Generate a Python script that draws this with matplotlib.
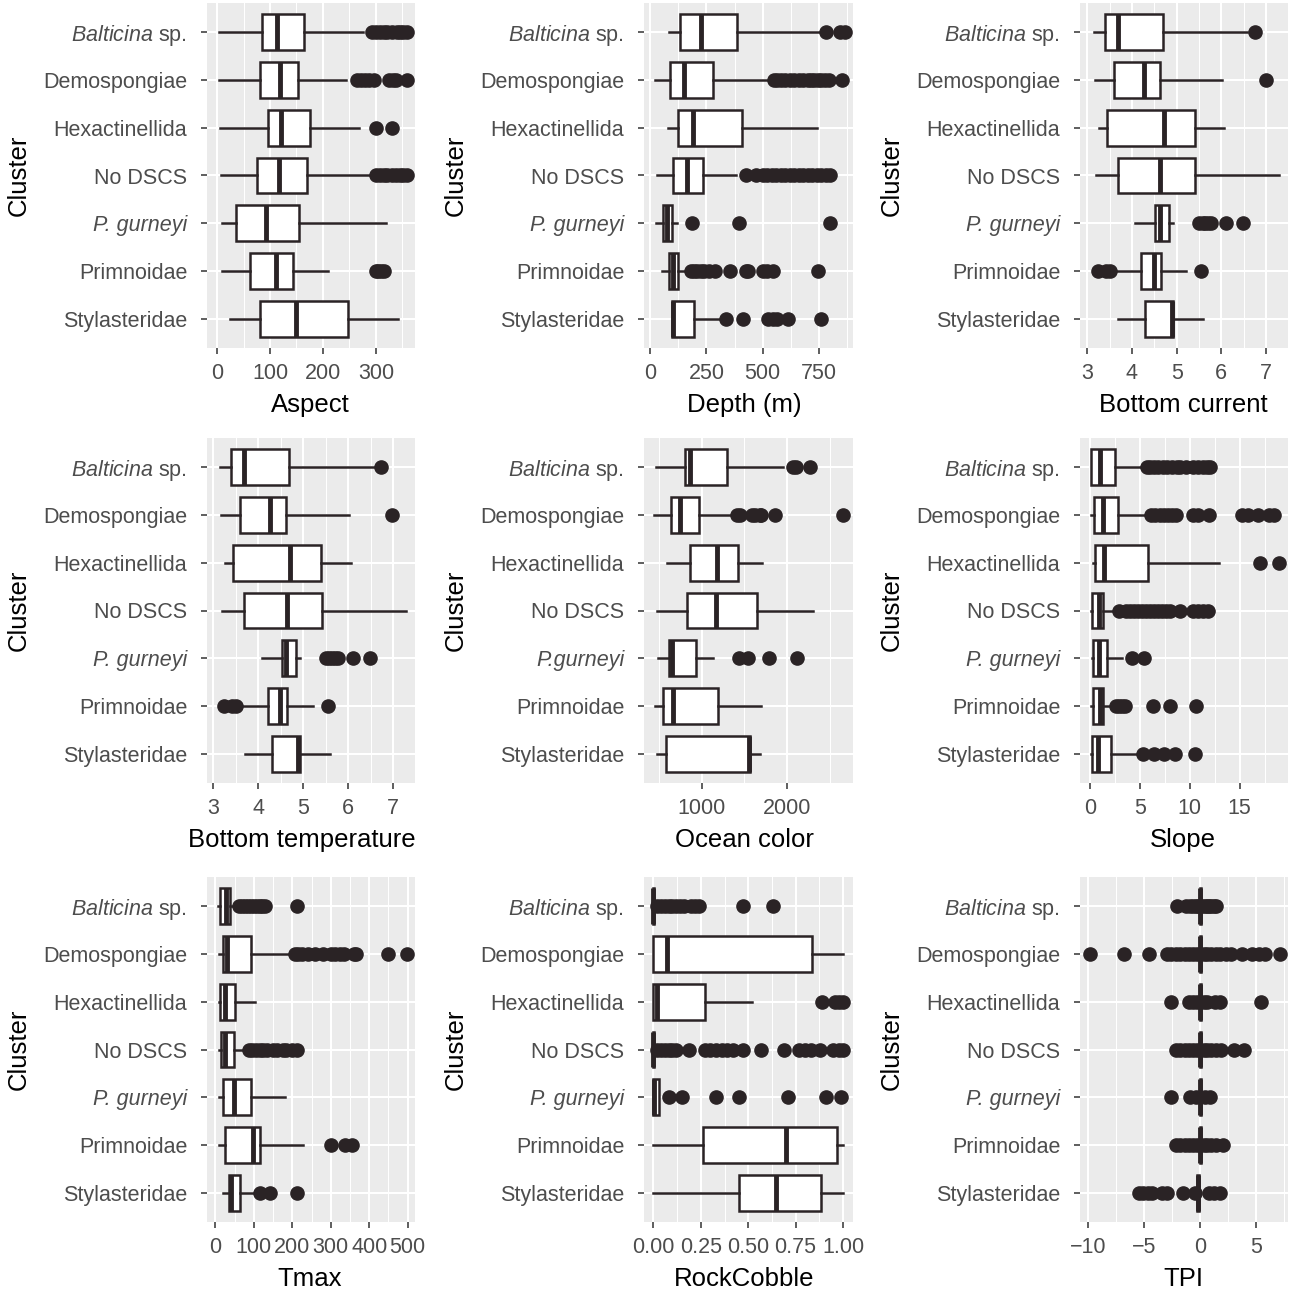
import matplotlib.pyplot as plt
from matplotlib.ticker import AutoMinorLocator
import numpy as np

plt.rcParams['font.family'] = ['Liberation Sans', 'DejaVu Sans']
plt.rcParams['mathtext.fontset'] = 'custom'
plt.rcParams['mathtext.rm'] = 'Liberation Sans'
plt.rcParams['mathtext.it'] = 'Liberation Sans:italic'

clusters = [r'$\mathit{Balticina}$ sp.', 'Demospongiae', 'Hexactinellida', 'No DSCS',
            'P. gurneyi', 'Primnoidae', 'Stylasteridae']

# box stats per cluster: [whisker low, q1, median, q3, whisker high]
aspect_box = [[3, 84, 113, 164, 275], [3, 81, 118, 152, 243], [6, 97, 120, 176, 268],
              [7, 75, 117, 169, 301], [10, 35, 93, 155, 319], [10, 63, 111, 144, 210],
              [25, 82, 149, 248, 341]]
aspect_out = [[293, 300, 308, 315, 322, 330, 340, 345, 352, 358],
              [265, 272, 280, 288, 296, 325, 332, 338, 358],
              [301, 331],
              [301, 308, 315, 322, 330, 338, 345, 352, 358],
              [],
              [300, 305, 310, 315],
              []]

depth_box = [[86, 133, 224, 387, 760], [22, 89, 151, 281, 546], [81, 126, 192, 410, 743],
             [30, 103, 162, 233, 380], [27, 56, 74, 96, 118], [52, 86, 103, 126, 160],
             [96, 98, 103, 195, 320]]
depth_out = [[780, 845, 865],
             [550, 565, 580, 600, 620, 640, 660, 680, 700, 715, 730, 745, 760, 775, 795, 850],
             [],
             [425, 470, 500, 520, 540, 560, 580, 600, 620, 640, 660, 680, 700, 720, 740, 760, 780, 800],
             [185, 394, 797],
             [180, 195, 210, 225, 240, 260, 290, 355, 425, 435, 500, 520, 545, 745],
             [337, 414, 525, 545, 565, 613, 760]]

current_box = [[3.15, 3.40, 3.69, 4.69, 6.58], [3.17, 3.59, 4.26, 4.62, 6.01],
               [3.26, 3.44, 4.71, 5.40, 6.06], [3.19, 3.68, 4.63, 5.42, 7.29],
               [4.08, 4.52, 4.62, 4.84, 4.93], [3.57, 4.21, 4.49, 4.65, 5.22],
               [3.70, 4.30, 4.89, 4.93, 5.59]]
current_out = [[6.76], [6.99], [], [],
               [5.51, 5.58, 5.64, 5.70, 5.77, 6.10, 6.49],
               [3.24, 3.42, 3.51, 5.55], []]

temp_box = [[3.15, 3.40, 3.69, 4.69, 6.58], [3.17, 3.59, 4.26, 4.62, 6.01],
            [3.26, 3.44, 4.71, 5.40, 6.06], [3.19, 3.68, 4.63, 5.42, 7.29],
            [4.08, 4.52, 4.62, 4.84, 4.93], [3.57, 4.21, 4.49, 4.65, 5.22],
            [3.70, 4.30, 4.89, 4.93, 5.59]]
temp_out = [[6.74], [6.97], [], [],
            [5.51, 5.58, 5.64, 5.70, 5.77, 6.10, 6.49],
            [3.24, 3.42, 3.51, 5.55], []]

ocean_box = [[473, 805, 860, 1293, 1949], [445, 641, 746, 973, 1383], [602, 867, 1176, 1430, 1707],
             [484, 836, 1168, 1645, 2301], [496, 621, 660, 941, 1129], [457, 555, 672, 1187, 1695],
             [484, 590, 1559, 1570, 1684]]
ocean_out = [[2066, 2100, 2262],
             [1420, 1450, 1590, 1620, 1680, 1700, 1860, 2650],
             [], [],
             [1441, 1539, 1793, 2117],
             [], []]

slope_box = [[0.1, 0.13, 1.0, 2.51, 5.6], [0.1, 0.37, 1.34, 2.85, 5.96], [0.27, 0.54, 1.44, 5.86, 12.9],
             [0.1, 0.17, 0.94, 1.34, 2.28], [0.2, 0.33, 0.94, 1.71, 3.21], [0.1, 0.27, 1.04, 1.27, 2.11],
             [0.1, 0.2, 0.77, 2.11, 4.95]]
slope_out = [[5.7, 6.0, 6.4, 6.8, 7.3, 7.7, 8.2, 8.7, 9.0, 9.6, 10.3, 10.8, 11.3, 11.7, 12.0],
             [6.1, 6.5, 7.0, 7.4, 7.8, 8.2, 8.6, 10.3, 10.8, 11.9, 15.2, 15.8, 16.8, 17.9, 18.4],
             [17.0, 18.9],
             [2.9, 3.6, 4.0, 4.4, 4.8, 5.2, 5.6, 6.0, 6.4, 6.8, 7.2, 7.6, 8.0, 9.0, 10.3, 10.8, 11.3, 11.8],
             [4.18, 5.46],
             [2.6, 2.9, 3.2, 3.5, 6.3, 8.0, 10.6],
             [5.3, 6.46, 7.47, 8.57, 10.5]]

tmax_box = [[7, 13, 29, 39, 56], [9, 19, 30, 93, 201], [10, 13, 24, 52, 104],
            [9, 16, 26, 49, 82], [9, 20, 48, 93, 180], [10, 24, 98, 115, 229],
            [19, 35, 42, 65, 104]]
tmax_out = [[62, 70, 78, 85, 92, 100, 108, 115, 122, 128, 212],
            [208, 215, 225, 240, 260, 280, 300, 312, 325, 335, 360, 365, 450, 497],
            [],
            [88, 95, 105, 115, 125, 135, 150, 160, 175, 185, 200, 213],
            [],
            [301, 337, 355],
            [115, 143, 212]]

rock_box = [[0, 0, 0, 0.004, 0.008], [0, 0, 0.074, 0.836, 1.0], [0, 0, 0.02, 0.27, 0.52],
            [0, 0, 0, 0.003, 0.006], [0, 0, 0.005, 0.03, 0.03], [0, 0.263, 0.70, 0.968, 1.0],
            [0, 0.453, 0.647, 0.885, 1.0]]
rock_out = [[0.02, 0.04, 0.06, 0.08, 0.10, 0.12, 0.14, 0.16, 0.20, 0.22, 0.24, 0.47, 0.63],
            [],
            [0.89, 0.96, 0.98, 1.0],
            [0.02, 0.04, 0.06, 0.08, 0.10, 0.12, 0.19, 0.27, 0.30, 0.33, 0.36, 0.39, 0.42, 0.47,
             0.57, 0.69, 0.77, 0.80, 0.83, 0.88, 0.95, 0.98, 1.0],
            [0.08, 0.15, 0.33, 0.45, 0.71, 0.91, 0.99],
            [], []]

tpi_box = [[-0.1, -0.06, 0, 0.06, 0.1], [-0.1, -0.06, 0, 0.06, 0.1], [-0.1, -0.06, 0, 0.06, 0.1],
           [-0.1, -0.06, 0, 0.06, 0.1], [-0.1, -0.06, 0, 0.06, 0.1], [-0.1, -0.06, 0, 0.06, 0.1],
           [-0.3, -0.26, -0.2, -0.14, -0.1]]
tpi_out = [[-2.1, -1.3, -0.9, -0.6, -0.4, -0.2, 0.2, 0.4, 0.6, 0.8, 1.0, 1.2, 1.4],
           [-9.9, -6.8, -4.6, -3.0, -2.6, -2.2, -1.8, -1.4, -1.0, -0.6, -0.3, 0.3, 0.6, 1.0,
            1.4, 1.8, 2.3, 2.8, 3.7, 4.6, 5.3, 5.8, 7.1],
           [-2.6, -1.0, -0.6, -0.3, 0.3, 0.6, 1.3, 1.8, 5.4],
           [-2.2, -1.8, -1.4, -1.0, -0.6, -0.3, 0.3, 0.6, 1.0, 1.4, 1.9, 3.0, 3.9],
           [-2.6, -0.9, -0.4, 0.4, 0.9],
           [-2.2, -1.8, -1.4, -1.0, -0.6, -0.3, 0.3, 0.6, 1.0, 1.4, 2.0],
           [-5.5, -5.1, -4.7, -4.3, -3.4, -3.0, -1.5, -0.5, 0.8, 1.2, 1.8]]

panels = [
    ('Aspect', aspect_box, aspect_out, [0, 100, 200, 300], None, (-19, 374)),
    ('Depth (m)', depth_box, depth_out, [0, 250, 500, 750], None, (-27, 901)),
    ('Bottom current', current_box, current_out, [3, 4, 5, 6, 7], None, (2.84, 7.49)),
    ('Bottom temperature', temp_box, temp_out, [3, 4, 5, 6, 7], None, (2.86, 7.49)),
    ('Ocean color', ocean_box, ocean_out, [1000, 2000], None, (328, 2769)),
    ('Slope', slope_box, slope_out, [0, 5, 10, 15], None, (-1.0, 19.85)),
    ('Tmax', tmax_box, tmax_out, [0, 100, 200, 300, 400, 500], None, (-21.6, 519)),
    ('RockCobble', rock_box, rock_out, [0, 0.25, 0.5, 0.75, 1.0],
     ['0.00', '0.25', '0.50', '0.75', '1.00'], (-0.05, 1.053)),
    ('TPI', tpi_box, tpi_out, [-10, -5, 0, 5], ['\u221210', '\u22125', '0', '5'], (-10.76, 7.86)),
]

W, H = 1290, 1292
col_left = [207, 644, 1080]
col_w = [208, 209, 208]
title_x = [310, 744, 1183]
row_top = [3, 438, 877]
row_h = 345
dark = '#2A2325'

fig = plt.figure(figsize=(W / 100, H / 100), dpi=100)

for i, (title, box, out, ticks, tlabels, xlim) in enumerate(panels):
    r, c = divmod(i, 3)
    ax = fig.add_axes([col_left[c] / W, 1 - (row_top[r] + row_h) / H, col_w[c] / W, row_h / H])
    ax.set_facecolor('#EBEBEB')
    stats = []
    for b, o in zip(box, out):
        stats.append(dict(whislo=b[0], q1=b[1], med=b[2], q3=b[3], whishi=b[4], fliers=o))
    pos = np.arange(1, len(clusters) + 1)
    ax.bxp(stats, positions=pos, widths=0.75, vert=False, patch_artist=True, showcaps=False,
           boxprops=dict(facecolor='white', edgecolor=dark, linewidth=1.8),
           whiskerprops=dict(color=dark, linewidth=1.8),
           medianprops=dict(color=dark, linewidth=3.5, solid_capstyle='butt'),
           flierprops=dict(marker='o', markerfacecolor=dark, markeredgecolor=dark, markersize=9.5))
    ax.set_xlim(*xlim)
    ax.set_ylim(7.6, 0.4)
    ax.set_xticks(ticks)
    if tlabels is not None:
        ax.set_xticklabels(tlabels)
    ax.xaxis.set_minor_locator(AutoMinorLocator(2))
    ax.set_yticks(pos)
    labels = list(clusters)
    if title == 'Ocean color':
        labels[4] = 'P.gurneyi'
    ax.set_yticklabels(labels)
    ax.get_yticklabels()[4].set_fontstyle('italic')
    for s in ax.spines.values():
        s.set_visible(False)
    ax.set_axisbelow(True)
    ax.grid(which='major', color='white', linewidth=1.5)
    ax.grid(which='minor', axis='x', color='white', linewidth=0.75)
    ax.tick_params(which='major', length=4.3, width=1.1, color='#333333', labelcolor='#4D4D4D',
                   labelsize=15.5)
    ax.tick_params(axis='y', pad=10)
    ax.tick_params(axis='x', pad=6.5)
    ax.tick_params(which='minor', length=0)
    ax.set_xlabel(title, fontsize=18.5, color='black')
    tx = title_x[c] if title != 'Bottom temperature' else 302
    ax.xaxis.set_label_coords((tx - col_left[c]) / col_w[c], -45 / row_h)
    ax.set_ylabel('Cluster', fontsize=18.5, color='black')
    ax.yaxis.set_label_coords(-176 / col_w[c], 0.5)

fig.savefig('out.png', dpi=100)
